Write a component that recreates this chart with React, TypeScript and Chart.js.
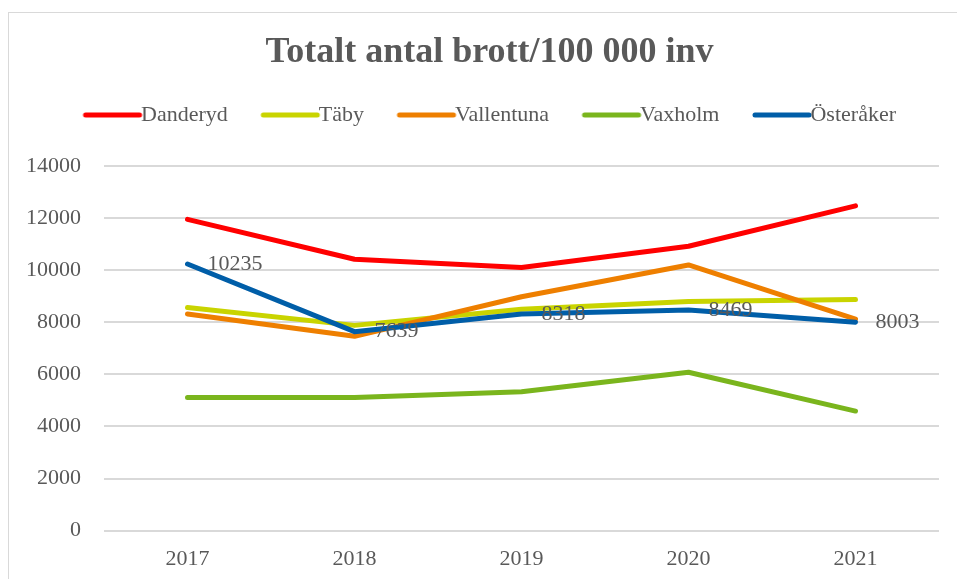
import React, { useEffect, useRef } from "react";
import { Chart, registerables, layouts } from "chart.js";

Chart.register(...registerables);

const categories = ["2017", "2018", "2019", "2020", "2021"];
const seriesNames = ["Danderyd", "Täby", "Vallentuna", "Vaxholm", "Österåker"];
const danderyd = [11950, 10420, 10100, 10920, 12470];
const taby = [8570, 7880, 8500, 8800, 8870];
const vallentuna = [8320, 7460, 8980, 10200, 8120];
const vaxholm = [5110, 5110, 5330, 6080, 4590];
const osteraker = [10235, 7639, 8318, 8469, 8003];
const seriesColors = ["#FF0000", "#C9D400", "#EE7F00", "#7AB51D", "#005EA8"];
const yTicks = [0, 2000, 4000, 6000, 8000, 10000, 12000, 14000];

const FONT = "'Liberation Serif', 'Times New Roman', serif";
const TEXT = "#595959";

function makeLegendImage(color: string) {
  const c = document.createElement("canvas");
  c.width = 80;
  c.height = 10;
  const ctx = c.getContext("2d")!;
  ctx.strokeStyle = color;
  ctx.lineWidth = 5;
  ctx.lineCap = "round";
  ctx.beginPath();
  ctx.moveTo(19, 5);
  ctx.lineTo(73, 5);
  ctx.stroke();
  return c;
}

const labelPlugin = {
  id: "osterakerLabels",
  afterDatasetsDraw(chart: any) {
    const meta = chart.getDatasetMeta(4);
    const ctx = chart.ctx;
    ctx.save();
    ctx.font = `22px ${FONT}`;
    ctx.fillStyle = TEXT;
    ctx.textAlign = "left";
    ctx.textBaseline = "middle";
    meta.data.forEach((pt: any, i: number) => {
      ctx.fillText(String(osteraker[i]), pt.x + 20, pt.y);
    });
    ctx.restore();
  },
};

const yLabelPlugin = {
  id: "yLabels",
  afterDraw(chart: any) {
    const scale = chart.scales.y;
    const ctx = chart.ctx;
    ctx.save();
    ctx.font = `22px ${FONT}`;
    ctx.fillStyle = TEXT;
    ctx.textAlign = "right";
    ctx.textBaseline = "middle";
    scale.ticks.forEach((t: any) => {
      ctx.fillText(String(t.value), chart.chartArea.left - 23, scale.getPixelForValue(t.value));
    });
    ctx.restore();
  },
};

const spacerPlugin = {
  id: "legendSpacer",
  beforeInit(chart: any) {
    const box: any = {
      position: "top",
      weight: 0,
      fullSize: true,
      options: {},
      top: 0,
      left: 0,
      right: 0,
      bottom: 0,
      width: 0,
      height: 0,
      isHorizontal() {
        return true;
      },
      update(maxWidth: number) {
        this.width = maxWidth;
        this.height = 30;
      },
      draw() {},
    };
    layouts.addBox(chart, box);
  },
};

export default function App() {
  const ref = useRef<HTMLCanvasElement | null>(null);
  useEffect(() => {
    if (!ref.current) return;
    const all = [danderyd, taby, vallentuna, vaxholm, osteraker];
    const images = seriesColors.map(makeLegendImage);
    const chart = new Chart(ref.current, {
      type: "line",
      data: {
        labels: categories,
        datasets: all.map((d, i) => ({
          label: seriesNames[i],
          data: d,
          borderColor: seriesColors[i],
          backgroundColor: seriesColors[i],
          borderWidth: 5,
          pointRadius: 0,
          tension: 0,
          borderCapStyle: "round" as const,
          borderJoinStyle: "round" as const,
          order: 4 - i,
        })),
      },
      options: {
        animation: false,
        responsive: false,
        maintainAspectRatio: false,
        layout: { padding: { left: 31, right: 31, top: 0, bottom: 0 } },
        plugins: {
          tooltip: { enabled: false },
          title: {
            display: true,
            text: "Totalt antal brott/100 000 inv",
            color: TEXT,
            font: { family: FONT, size: 36, weight: "bold", lineHeight: 1 },
            padding: { top: 22, bottom: 0 },
          },
          legend: {
            display: true,
            position: "top",
            labels: {
              usePointStyle: true,
              pointStyleWidth: 47,
              padding: 33,
              color: TEXT,
              font: { family: FONT, size: 22 },
              generateLabels: () =>
                seriesNames.map((n, i) => ({
                  text: n,
                  fillStyle: seriesColors[i],
                  strokeStyle: seriesColors[i],
                  lineWidth: 0,
                  pointStyle: images[i],
                  datasetIndex: i,
                  hidden: false,
                  fontColor: TEXT,
                })),
            },
          },
        },
        scales: {
          x: {
            type: "category",
            offset: true,
            grid: { display: false, drawTicks: false },
            border: { display: false },
            ticks: { color: TEXT, font: { family: FONT, size: 22 }, padding: 15 },
          },
          y: {
            min: 0,
            max: 14000,
            afterBuildTicks: (axis: any) => {
              axis.ticks = yTicks.map((v) => ({ value: v }));
            },
            afterFit: (axis: any) => {
              axis.width = 64;
            },
            grid: { color: "#d9d9d9", lineWidth: 2, drawTicks: false },
            border: { display: false },
            ticks: { display: false },
          },
        },
      },
      plugins: [spacerPlugin, labelPlugin, yLabelPlugin],
    });
    return () => chart.destroy();
  }, []);
  return (
    <div style={{ position: "fixed", left: 0, top: 0, width: 957, height: 579, overflow: "hidden", background: "#fff" }}>
      <div
        style={{
          position: "absolute",
          left: 8,
          top: 12,
          width: 962,
          height: 575,
          borderLeft: "1px solid #d9d9d9",
          borderTop: "1px solid #d9d9d9",
          boxSizing: "border-box",
        }}
      >
        <canvas ref={ref} width={961} height={574} style={{ display: "block", width: 961, height: 574 }} />
      </div>
    </div>
  );
}
